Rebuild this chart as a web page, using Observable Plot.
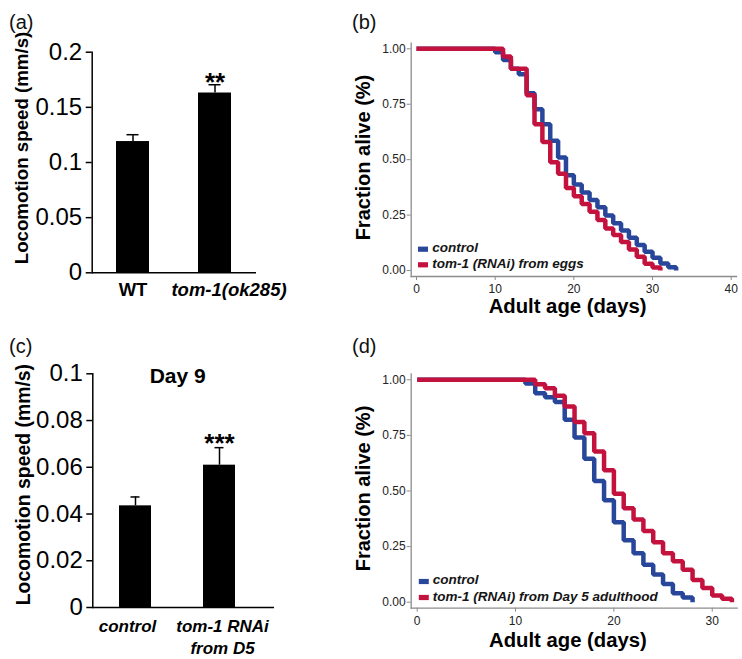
<!DOCTYPE html>
<html><head><meta charset="utf-8">
<script src="https://cdn.jsdelivr.net/npm/d3@7"></script>
<script src="https://cdn.jsdelivr.net/npm/@observablehq/plot@0.6"></script>
<style>
body{margin:0;background:#fff;}
#fig{position:relative;width:742px;height:659px;overflow:hidden;font-family:"Liberation Sans",Arial,Helvetica,sans-serif;background:#fff;}
.panel{position:absolute;}
.tag{position:absolute;font-size:20px;line-height:20px;color:#111;}
</style></head><body>
<div id="fig"></div>
<script>
// ---------- data ----------
const panelTags = ["(a)", "(b)", "(c)", "(d)"];

const aGroups = ["WT", "tom-1(ok285)"];
const aMeans = [0.119, 0.163];
const aErrors = [0.0062, 0.0075];
const aStars = ["", "**"];
const aTicks = [0, 0.05, 0.1, 0.15, 0.2];
const aTickLabels = ["0", "0.05", "0.1", "0.15", "0.2"];
const barYTitle = "Locomotion speed (mm/s)";

const cTitle = "Day 9";
const cGroups = ["control", "tom-1 RNAi\nfrom D5"];
const cMeans = [0.0435, 0.0609];
const cErrors = [0.0038, 0.0075];
const cStars = ["", "***"];
const cTicks = [0, 0.02, 0.04, 0.06, 0.08, 0.1];
const cTickLabels = ["0", "0.02", "0.04", "0.06", "0.08", "0.1"];

const survYTitle = "Fraction alive (%)";
const survXTitle = "Adult age (days)";
const survTicksY = [0, 0.25, 0.5, 0.75, 1];
const survTickLabelsY = ["0.00", "0.25", "0.50", "0.75", "1.00"];
const bTicksX = [0, 10, 20, 30, 40];
const dTicksX = [0, 10, 20, 30];

const bNames = ["control", "tom-1 (RNAi) from eggs"];
const bControlDays = [0,10,11,12,13,14,15,16,17,18,19,20,21,22,23,24,25,26,27,28,29,30,31,32,33];
const bControlSurv = [1,0.985,0.95,0.91,0.885,0.80,0.727,0.66,0.585,0.51,0.43,0.388,0.352,0.318,0.285,0.248,0.213,0.18,0.148,0.115,0.085,0.058,0.032,0.015,0];
const bRnaiDays = [0,11,12,14,15,16,17,18,19,20,21,22,23,24,25,26,27,28,29,30,31];
const bRnaiSurv = [1,0.965,0.91,0.79,0.66,0.58,0.488,0.436,0.372,0.335,0.30,0.265,0.228,0.19,0.16,0.128,0.095,0.062,0.03,0.013,0];

const dNames = ["control", "tom-1 (RNAi) from Day 5 adulthood"];
const dControlDays = [0,11,12,13,14,15,16,17,18,19,20,21,22,23,24,25,26,27,28];
const dControlSurv = [1,0.983,0.94,0.921,0.90,0.82,0.74,0.645,0.545,0.458,0.36,0.278,0.22,0.168,0.124,0.082,0.04,0.021,0];
const dRnaiDays = [0,12,13,14,15,16,17,18,19,20,21,22,23,24,25,26,27,28,29,30,31,32];
const dRnaiSurv = [1,0.98,0.962,0.928,0.88,0.81,0.76,0.678,0.593,0.488,0.422,0.372,0.32,0.27,0.22,0.184,0.146,0.10,0.064,0.03,0.015,0];

// ---------- styling ----------
const FONT = '"Liberation Sans", Arial, Helvetica, sans-serif';
const BLUE = "#29479a", RED = "#c4123f", AX = "#8c8c8c";
const fig = document.getElementById("fig");

function place(el, left, top) {
  const d = document.createElement("div");
  d.className = "panel";
  d.style.left = left + "px";
  d.style.top = top + "px";
  d.appendChild(el);
  fig.appendChild(d);
}
function tag(text, left, top) {
  const d = document.createElement("div");
  d.className = "tag";
  d.style.left = left + "px";
  d.style.top = top + "px";
  d.textContent = text;
  fig.appendChild(d);
}

function barPanel(o) {
  const data = o.groups.map((g, i) => ({g, m: o.means[i], e: o.errors[i], s: o.stars[i], i}));
  const top = d => d.m + d.e;
  const marks = [
    Plot.barY(data, {x: "g", y: "m", fill: "black"}),
    Plot.ruleX(data, {x: "g", y1: "m", y2: top, stroke: "black", strokeWidth: 1.5}),
    Plot.tickY(data, {x: "g", y: top, stroke: "black", strokeWidth: 1.5, insetLeft: o.capInset, insetRight: o.capInset}),
    Plot.text(data, {x: "g", y: top, text: "s", fontSize: 26, fontWeight: "bold", lineAnchor: "middle", dy: o.starDy, fill: "black"}),
    Plot.ruleY([0], {stroke: "black", strokeWidth: 1.5}),
    Plot.frame({anchor: "left", stroke: "black", strokeWidth: 1.5}),
    Plot.axisY({ticks: o.ticks, tickFormat: d => o.tickLabels[o.ticks.indexOf(d)], tickSize: 6, tickPadding: 4,
      fontSize: o.tickFont, stroke: "black", strokeWidth: 1.5, fill: "black", label: null}),
    Plot.text([o.yTitle], {frameAnchor: "left", rotate: -90, textAnchor: "middle", lineAnchor: "middle",
      dx: o.yTitleDx, dy: o.yTitleDy, fontSize: o.yTitleFont, fontWeight: "bold", fill: "black"})
  ];
  data.forEach((d, i) => marks.push(Plot.text([d], {x: "g", text: "g", frameAnchor: "bottom", lineAnchor: "top",
    dx: o.labelDx[i], dy: o.labelDy, fontSize: o.labelFont, fontWeight: "bold",
    fontStyle: o.italic(i) ? "italic" : "normal", fill: "black", lineHeight: o.labelLine})));
  if (o.title) marks.push(Plot.text([o.title], {frameAnchor: "top", textAnchor: "middle", lineAnchor: "middle",
    dx: -6, dy: 2, fontSize: 21, fontWeight: "bold", fill: "black"}));
  return Plot.plot({
    width: o.width, height: o.height,
    marginLeft: o.ml, marginRight: o.mr, marginTop: o.mt, marginBottom: o.mb,
    x: {type: "band", domain: o.groups, paddingInner: o.pi, paddingOuter: o.po, align: o.align, axis: null},
    y: {domain: [0, o.ticks[o.ticks.length - 1]], axis: null},
    style: {fontFamily: FONT, background: "transparent", overflow: "visible", color: "black"},
    marks
  });
}

function survPanel(o) {
  const series = o.series.map(s => s.days.map((day, k) => ({day, surv: s.surv[k]})));
  const colors = [BLUE, RED];
  const marks = [
    Plot.frame({anchor: "left", stroke: AX, strokeWidth: 1.3}),
    Plot.frame({anchor: "bottom", stroke: AX, strokeWidth: 1.3}),
    Plot.axisY({ticks: survTicksY, tickFormat: d => survTickLabelsY[survTicksY.indexOf(d)], tickSize: 4, tickPadding: 1.5,
      fontSize: 12, stroke: AX, fill: "#222", label: null}),
    Plot.axisX({ticks: o.xticks, tickSize: 4, tickPadding: 4, fontSize: 12, stroke: AX, fill: "#222", label: null}),
  ];
  series.forEach((s, k) => marks.push(Plot.line(s, {x: "day", y: "surv", curve: "step-after", stroke: colors[k],
    strokeWidth: 4.5, strokeLinejoin: "miter", strokeLinecap: "butt"})));
  const rectSymbol = {draw(ctx) { ctx.rect(-5, -2.6, 10, 5.2); }};
  o.names.forEach((name, k) => {
    marks.push(Plot.dot([name], {frameAnchor: "bottom-left", dx: o.legMarkDx, dy: o.legMarkDy[k], symbol: rectSymbol,
      fill: colors[k], stroke: "none"}));
    marks.push(Plot.text([name], {frameAnchor: "bottom-left", textAnchor: "start", lineAnchor: "middle", dx: o.legTextDx,
      dy: o.legTextDy[k], fontSize: 13.5, fontWeight: "bold", fontStyle: "italic", fill: "#151515"}));
  });
  marks.push(Plot.text([survYTitle], {frameAnchor: "left", rotate: -90, textAnchor: "middle", lineAnchor: "middle",
    dx: -47.2, dy: o.yTitleDy, fontSize: 20, fontWeight: "bold", fill: "black"}));
  marks.push(Plot.text([survXTitle], {frameAnchor: "bottom", textAnchor: "middle", lineAnchor: "top",
    dx: -6.3, dy: o.xTitleDy, fontSize: 20.3, fontWeight: "bold", fill: "black"}));
  return Plot.plot({
    width: o.width, height: o.height,
    marginLeft: o.ml, marginRight: o.mr, marginTop: o.mt, marginBottom: o.mb,
    x: {domain: o.xdomain, insetLeft: o.insetL, insetRight: o.insetR, axis: null},
    y: {domain: [0, 1], insetTop: o.insetT, insetBottom: o.insetB, axis: null},
    style: {fontFamily: FONT, background: "transparent", overflow: "visible", color: "black"},
    marks
  });
}

place(barPanel({groups: aGroups, means: aMeans, errors: aErrors, stars: aStars, ticks: aTicks, tickLabels: aTickLabels,
  width: 340, height: 330, ml: 91.7, mr: 84, mt: 51.7, mb: 57.7, pi: 0.6, po: 0.3, align: 0.5,
  capInset: 10.5, starDy: -2, tickFont: 24, labelDy: 8, labelDx: [0, 14], labelFont: 18.5, labelLine: 1.12,
  italic: i => i === 1,
  yTitle: barYTitle, yTitleDx: -70, yTitleDy: -14.5, yTitleFont: 18.7}), 0, 0);

place(survPanel({series: [{days: bControlDays, surv: bControlSurv}, {days: bRnaiDays, surv: bRnaiSurv}], names: bNames,
  xticks: bTicksX, xdomain: [0, 40], width: 402, height: 330, ml: 70.7, mr: 6, mt: 42.7, mb: 54,
  insetL: 5.3, insetR: 5.3, insetT: 5.6, insetB: 6,
  legMarkDx: 11.8, legMarkDy: [-27.3, -11.7], legTextDx: 21, legTextDy: [-29, -13.3], yTitleDy: -2.3, xTitleDy: 22.3}), 340, 0);

place(barPanel({groups: cGroups, means: cMeans, errors: cErrors, stars: cStars, ticks: cTicks, tickLabels: cTickLabels,
  title: cTitle, width: 340, height: 329, ml: 92.3, mr: 66, mt: 43.3, mb: 52, pi: 0.618, po: 0.378, align: 0.41,
  capInset: 11.5, starDy: -4, tickFont: 24, labelDy: 10, labelDx: [-8, 3], labelFont: 17, labelLine: 1.24,
  italic: () => true,
  yTitle: barYTitle, yTitleDx: -69.5, yTitleDy: -6, yTitleFont: 19.4}), 0, 330);

place(survPanel({series: [{days: dControlDays, surv: dControlSurv}, {days: dRnaiDays, surv: dRnaiSurv}], names: dNames,
  xticks: dTicksX, xdomain: [0, 32], width: 402, height: 329, ml: 70.7, mr: 5.3, mt: 43.3, mb: 51.3,
  insetL: 6, insetR: 5.3, insetT: 6, insetB: 6,
  legMarkDx: 12.6, legMarkDy: [-26.7, -10.7], legTextDx: 21.6, legTextDy: [-28.4, -12], yTitleDy: -2.5, xTitleDy: 24}), 340, 330);

tag(panelTags[0], 9, 12);
tag(panelTags[1], 352, 12);
tag(panelTags[2], 9, 336);
tag(panelTags[3], 352, 336);
</script>
</body></html>
